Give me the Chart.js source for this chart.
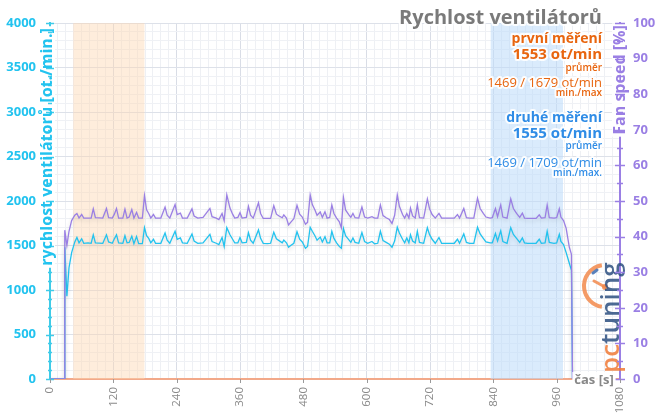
<!DOCTYPE html>
<html>
<head>
<meta charset="utf-8">
<script src="https://cdn.jsdelivr.net/npm/chart.js@4.4.0/dist/chart.umd.min.js"></script>
<style>
  html, body { margin: 0; padding: 0; background: #fff; }
</style>
</head>
<body>
<canvas id="fanChart" width="660" height="419"></canvas>
<script>
// time [s]
var times = [
  0, 27, 28, 32, 36, 41, 47, 51, 55, 60,
  64, 72, 78, 82, 86, 100, 107, 111, 118, 122,
  126, 130, 138, 142, 146, 150, 155, 159, 164, 168,
  175, 179, 183, 187, 191, 196, 200, 210, 218, 222,
  227, 237, 241, 247, 251, 260, 269, 273, 280, 290,
  303, 307, 315, 320, 326, 330, 335, 341, 346, 350,
  356, 360, 364, 372, 376, 380, 385, 395, 399, 404,
  412, 418, 424, 429, 434, 440, 443, 448, 452, 456,
  462, 468, 473, 478, 484, 488, 493, 497, 502, 506,
  512, 516, 521, 525, 530, 534, 538, 543, 548, 552,
  556, 560, 566, 570, 574, 578, 585, 591, 596, 602,
  610, 615, 621, 626, 631, 637, 643, 648, 653, 658,
  662, 668, 672, 676, 680, 683, 687, 692, 696, 700,
  708, 715, 719, 724, 730, 737, 742, 760, 766, 772,
  776, 784, 789, 795, 803, 810, 815, 821, 826, 834,
  838, 844, 848, 854, 858, 866, 873, 878, 884, 890,
  895, 899, 905, 915, 921, 927, 931, 938, 942, 946,
  955, 960, 965, 968, 973, 978, 984, 988, 990
];

// fan speed [%] (right axis)
var fan = [
  0, 0, 41.8, 37.5, 41.5, 44.5, 46.0, 46.5, 45.2, 46.2,
  45.2, 45.2, 45.2, 47.8, 45.3, 45.2, 47.9, 45.3, 45.2, 46.3,
  47.9, 45.2, 45.2, 47.7, 45.2, 45.5, 47.6, 45.2, 46.8, 45.2,
  45.2, 51.5, 47.5, 46.5, 45.2, 46.2, 45.2, 45.2, 48.3, 46.0,
  45.2, 49.0, 46.2, 46.6, 45.2, 45.2, 47.8, 45.8, 45.2, 45.4,
  47.9, 45.6, 45.2, 44.8, 46.5, 44.5, 51.7, 48.0, 46.3, 45.2,
  45.4, 46.7, 45.2, 45.4, 48.5, 46.0, 45.2, 49.5, 46.5, 45.1,
  45.1, 45.1, 48.7, 46.3, 45.8, 45.3, 46.1, 45.2, 43.3, 44.0,
  45.0, 48.8, 46.3, 45.5, 43.5, 44.0, 51.7, 49.0, 47.5, 46.0,
  46.9, 45.4, 47.0, 45.2, 45.4, 48.9, 46.5, 45.2, 44.2, 42.5,
  51.0, 47.5, 46.2, 45.4, 46.5, 45.3, 45.2, 48.3, 45.5, 45.2,
  45.6, 45.2, 45.2, 48.9, 45.9, 45.3, 44.8, 43.7, 46.0, 51.7,
  48.5, 46.2, 45.2, 46.5, 45.2, 48.0, 45.8, 45.2, 49.0, 45.3,
  45.2, 50.6, 47.9, 46.2, 45.2, 46.5, 45.2, 45.2, 45.2, 46.2,
  45.2, 47.9, 45.3, 45.2, 45.2, 50.8, 47.9, 46.5, 45.5, 45.2,
  45.3, 47.9, 45.6, 48.9, 45.5, 45.2, 50.6, 47.9, 46.5, 45.4,
  46.6, 45.2, 45.1, 45.1, 45.1, 46.1, 45.2, 45.3, 48.9, 45.3,
  45.2, 45.3, 47.8, 45.5, 44.5, 42.3, 37.0, 35.0, 0
];

// fan rpm (left axis)
var rpm = [
  0, 0, 1480, 930, 1250, 1420, 1540, 1590, 1530, 1575,
  1525, 1530, 1525, 1620, 1530, 1525, 1620, 1540, 1525, 1575,
  1620, 1530, 1525, 1610, 1530, 1535, 1605, 1520, 1600, 1520,
  1520, 1700, 1610, 1580, 1530, 1570, 1525, 1525, 1640, 1560,
  1525, 1660, 1570, 1585, 1530, 1525, 1630, 1550, 1525, 1530,
  1625, 1545, 1525, 1510, 1590, 1490, 1700, 1620, 1570, 1530,
  1530, 1590, 1530, 1535, 1645, 1560, 1525, 1675, 1580, 1525,
  1520, 1525, 1650, 1575, 1555, 1530, 1560, 1530, 1480, 1500,
  1525, 1655, 1570, 1540, 1470, 1490, 1705, 1660, 1610, 1560,
  1595, 1540, 1600, 1530, 1530, 1660, 1580, 1530, 1490, 1470,
  1690, 1610, 1565, 1535, 1585, 1535, 1525, 1645, 1545, 1525,
  1545, 1520, 1525, 1660, 1555, 1535, 1515, 1480, 1550, 1705,
  1640, 1570, 1530, 1585, 1530, 1620, 1550, 1530, 1660, 1535,
  1525, 1700, 1625, 1570, 1525, 1590, 1525, 1525, 1525, 1570,
  1525, 1630, 1535, 1525, 1525, 1705, 1630, 1580, 1540, 1530,
  1530, 1635, 1550, 1665, 1545, 1525, 1700, 1625, 1580, 1535,
  1585, 1530, 1525, 1525, 1525, 1570, 1525, 1530, 1660, 1535,
  1525, 1530, 1625, 1545, 1510, 1420, 1300, 1220, 0
];

var xLabels = [0, 120, 240, 360, 480, 600, 720, 840, 960, 1080];
var leftLabels = [0, 500, 1000, 1500, 2000, 2500, 3000, 3500, 4000];
var rightLabels = [0, 10, 20, 30, 40, 50, 60, 70, 80, 90, 100];

// measured windows (first / second run)
var bandFrom = [44, 835];
var bandTo = [179, 972];

var chartTitle = 'Rychlost ventilátorů';
var run1 = ['první měření', '1553 ot/min', 'průměr', '1469 / 1679 ot/min', 'min./max'];
var run2 = ['druhé měření', '1555 ot/min', 'průměr', '1469 / 1709 ot/min', 'min./max.'];

var CYAN = '#22c3ef';
var PURPLE = '#9a7fe4';
var FONT = '"Open Sans", "DejaVu Sans", sans-serif';

function glowText(ctx, txt, x, y, font, color, align) {
    ctx.font = font;
    ctx.textAlign = align || 'right';
    ctx.textBaseline = 'middle';
    ctx.lineJoin = 'round';
    ctx.lineWidth = 4;
    ctx.strokeStyle = 'rgba(255,255,255,0.9)';
    ctx.strokeText(txt, x, y);
    ctx.fillStyle = color;
    ctx.fillText(txt, x, y);
}

function axisTitle(ctx, txt, cx, cy, font, color) {
    ctx.save();
    ctx.translate(cx, cy);
    ctx.rotate(-Math.PI / 2);
    ctx.font = font;
    var w = ctx.measureText(txt).width;
    ctx.fillStyle = '#fff';
    ctx.fillRect(-w / 2 - 2, -8, w + 4, 16);
    ctx.restore();
    return function () {
        ctx.save();
        ctx.translate(cx, cy);
        ctx.rotate(-Math.PI / 2);
        ctx.font = font;
        ctx.textAlign = 'center';
        ctx.textBaseline = 'middle';
        ctx.fillStyle = color;
        ctx.fillText(txt, 0, 0);
        ctx.restore();
    };
}

var decor = {
    id: 'decor',
    beforeDatasetsDraw: function (chart) {
        var ctx = chart.ctx, a = chart.chartArea, x = chart.scales.x;
        var colors = ['rgba(252,214,178,0.45)', 'rgba(188,218,250,0.55)'];
        ctx.save();
        for (var i = 0; i < bandFrom.length; i++) {
            var x0 = x.getPixelForValue(bandFrom[i]);
            var x1 = x.getPixelForValue(bandTo[i]);
            ctx.fillStyle = colors[i];
            ctx.fillRect(x0, a.top, x1 - x0, a.bottom - a.top);
        }
        ctx.restore();
    },
    beforeDatasetDraw: function (chart) {
        var ctx = chart.ctx;
        ctx.save();
        ctx.shadowColor = 'rgba(0,0,0,0.16)';
        ctx.shadowBlur = 4;
        ctx.shadowOffsetY = 2;
    },
    afterDatasetDraw: function (chart) {
        chart.ctx.restore();
    },
    afterDatasetsDraw: function (chart) {
        // pctuning watermark
        var ctx = chart.ctx;
        ctx.save();
        ctx.globalAlpha = 0.85;
        ctx.strokeStyle = '#f28a4c';
        ctx.lineWidth = 4;
        ctx.beginPath();
        ctx.arc(605, 286, 21, -Math.PI / 2 - 0.15, Math.PI / 2 + 0.15, true);
        ctx.stroke();
        ctx.lineCap = 'round';
        ctx.lineWidth = 3;
        ctx.beginPath();
        ctx.moveTo(605, 287);
        ctx.lineTo(594, 281);
        ctx.stroke();
        ctx.fillStyle = '#f28a4c';
        ctx.beginPath();
        ctx.arc(605, 287, 3, 0, Math.PI * 2);
        ctx.fill();
        ctx.strokeStyle = '#3d6cb0';
        ctx.lineWidth = 3;
        ctx.beginPath();
        ctx.moveTo(593, 273);
        ctx.lineTo(597, 270);
        ctx.stroke();
        ctx.translate(619, 373);
        ctx.rotate(-Math.PI / 2);
        ctx.font = '600 26px ' + FONT;
        ctx.textAlign = 'left';
        ctx.textBaseline = 'alphabetic';
        ctx.fillStyle = '#f07a36';
        ctx.fillText('pc', 0, 0);
        var w = ctx.measureText('pc').width;
        ctx.fillStyle = '#2c4f80';
        ctx.fillText('tuning', w, 0);
        ctx.restore();
    },
    afterDraw: function (chart) {
        var ctx = chart.ctx, a = chart.chartArea;
        var yL = chart.scales.y, yR = chart.scales.y1, x = chart.scales.x;

        var drawLeft = axisTitle(ctx, 'rychlost ventilátorů [ot./min.]', a.left - 3, 147, 'bold 16px ' + FONT, CYAN);
        var drawRight = axisTitle(ctx, 'Fan speed [%]', a.right, 80, 'bold 16px ' + FONT, PURPLE);

        ctx.save();
        ctx.lineWidth = 1.5;
        ctx.strokeStyle = '#3fcbe8';
        for (var v = 0; v <= 4000; v += 100) {
            var py = Math.round(yL.getPixelForValue(v)) + 0.5;
            var len = v % 500 === 0 ? 4 : 2;
            ctx.beginPath();
            ctx.moveTo(a.left - len, py);
            ctx.lineTo(a.left + len, py);
            ctx.stroke();
        }
        ctx.strokeStyle = PURPLE;
        for (var p = 0; p <= 100; p += 5) {
            var ry = Math.round(yR.getPixelForValue(p)) + 0.5;
            var rl = p % 10 === 0 ? 5 : 3;
            ctx.beginPath();
            ctx.moveTo(a.right - rl, ry);
            ctx.lineTo(a.right + rl, ry);
            ctx.stroke();
        }
        ctx.strokeStyle = '#9a9a9a';
        ctx.lineWidth = 1;
        xLabels.forEach(function (t) {
            var px = Math.round(x.getPixelForValue(t)) + 0.5;
            ctx.beginPath();
            ctx.moveTo(px, a.bottom);
            ctx.lineTo(px, a.bottom + 4);
            ctx.stroke();
        });
        ctx.restore();

        drawLeft();
        drawRight();

        ctx.save();
        ctx.font = 'bold 13px ' + FONT;
        var cw = ctx.measureText('čas [s]').width;
        ctx.fillStyle = 'rgba(255,255,255,0.85)';
        ctx.fillRect(594 - cw / 2 - 2, a.bottom - 7, cw + 4, 14);
        glowText(ctx, 'čas [s]', 594, a.bottom + 1, 'bold 13px ' + FONT, '#888888', 'center');

        var R = 602;
        glowText(ctx, chartTitle, R, 18, 'bold 20px ' + FONT, '#7a7a7a');

        var OR = '#e8650f', BL = '#2f8ce6';
        glowText(ctx, run1[0], R, 39, 'bold 14px ' + FONT, OR);
        glowText(ctx, run1[1], R, 55, 'bold 15px ' + FONT, OR);
        glowText(ctx, run1[2], R, 68, '600 10px ' + FONT, OR);
        glowText(ctx, run1[3], R, 83, '13px ' + FONT, OR);
        glowText(ctx, run1[4], R, 93, '600 10px ' + FONT, OR);

        glowText(ctx, run2[0], R, 118, 'bold 14px ' + FONT, BL);
        glowText(ctx, run2[1], R, 134, 'bold 15px ' + FONT, BL);
        glowText(ctx, run2[2], R, 146, '600 10px ' + FONT, BL);
        glowText(ctx, run2[3], R, 163, '13px ' + FONT, BL);
        glowText(ctx, run2[4], R, 173, '600 10px ' + FONT, BL);
        ctx.restore();
    }
};

new Chart('fanChart', {
    type: 'line',
    data: {
        datasets: [{
            label: 'Fan speed',
            yAxisID: 'y1',
            data: times.map(function (t, i) { return { x: t, y: fan[i] }; }),
            borderColor: PURPLE,
            borderWidth: 1.3,
            pointRadius: 0,
            tension: 0
        }, {
            label: 'rpm',
            yAxisID: 'y',
            data: times.map(function (t, i) { return { x: t, y: rpm[i] }; }),
            borderColor: CYAN,
            borderWidth: 1.3,
            pointRadius: 0,
            tension: 0
        }]
    },
    options: {
        responsive: false,
        animation: false,
        devicePixelRatio: 1,
        layout: { padding: { top: 23, left: 0, right: 0, bottom: 0 } },
        plugins: { legend: { display: false }, tooltip: { enabled: false } },
        scales: {
            x: {
                type: 'linear',
                min: 0, max: 1080,
                afterFit: function (s) { s.height = 40; },
                border: { display: true, color: '#f2a98a', width: 2 },
                grid: {
                    drawTicks: false,
                    color: function (c) { return c.tick && c.tick.value % 120 === 0 ? '#d9dde6' : '#eef0f4'; }
                },
                ticks: {
                    stepSize: 15,
                    autoSkip: false,
                    minRotation: 90,
                    maxRotation: 90,
                    padding: 8,
                    color: '#8a8a8a',
                    font: { family: FONT, size: 11.5 },
                    callback: function (v) { return xLabels.indexOf(v) >= 0 ? String(v) : ''; }
                }
            },
            y: {
                position: 'left',
                min: 0, max: 4000,
                afterFit: function (s) { s.width = 50; },
                border: { display: true, color: '#3fcbe8', width: 2 },
                grid: {
                    drawTicks: false,
                    color: function (c) { return c.tick && c.tick.value % 500 === 0 ? '#dde1e9' : '#eff1f5'; }
                },
                ticks: {
                    stepSize: 100,
                    autoSkip: false,
                    padding: 14,
                    color: CYAN,
                    font: { family: FONT, size: 13, weight: 'bold' },
                    callback: function (v) { return leftLabels.indexOf(v) >= 0 ? String(v) : ''; }
                }
            },
            y1: {
                position: 'right',
                min: 0, max: 100,
                afterFit: function (s) { s.width = 40; },
                border: { display: true, color: PURPLE, width: 2 },
                grid: { drawOnChartArea: false, drawTicks: false },
                ticks: {
                    stepSize: 5,
                    autoSkip: false,
                    padding: 13,
                    color: PURPLE,
                    font: { family: FONT, size: 13, weight: 'bold' },
                    callback: function (v) { return rightLabels.indexOf(v) >= 0 ? String(v) : ''; }
                }
            }
        }
    },
    plugins: [decor]
});
</script>
</body>
</html>
